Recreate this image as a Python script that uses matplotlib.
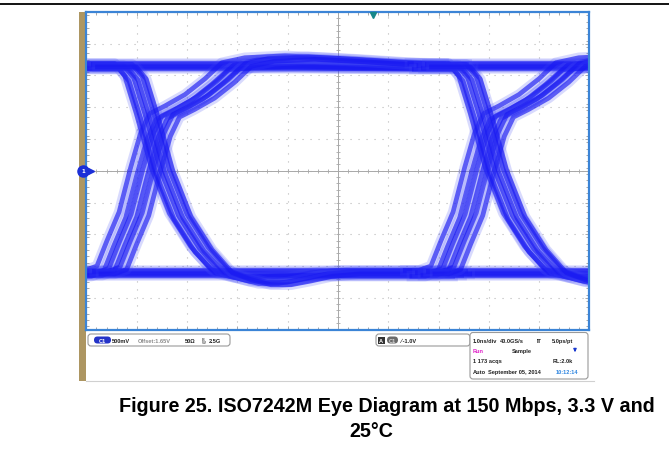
import numpy as np
import matplotlib
matplotlib.use('Agg')
import matplotlib.pyplot as plt
from matplotlib.patches import Rectangle, FancyBboxPatch
from matplotlib.ticker import MultipleLocator

# ---- waveform data (time in ns, level in V) ----
ui = 6.64                      # one bit at 150 Mbps, left crossing -> right crossing

rise_t = [0.00, 0.27, 0.51, 0.71, 0.95, 1.18, 1.38, 1.56, 1.86, 2.26, 2.66, 2.99,
          3.45, 4.25, 5.24, 6.63, 7.40]
rise_v = [0.03, 0.03, 0.10, 0.50, 0.95, 1.65, 2.20, 2.50, 2.62, 2.80, 3.05, 3.28,
          3.31, 3.32, 3.30, 3.29, 3.29]
rise_v_over = [0.03, 0.03, 0.10, 0.50, 0.95, 1.65, 2.20, 2.50, 2.62, 2.80, 3.05, 3.30,
               3.38, 3.41, 3.37, 3.30, 3.29]

fall_t = [0.00, 0.77, 0.97, 1.20, 1.50, 1.86, 2.28, 2.68, 3.05, 3.45, 3.85, 4.25,
          4.65, 5.20, 7.40]
fall_v = [3.29, 3.29, 3.10, 2.51, 1.65, 0.93, 0.41, 0.08, 0.01, 0.01, 0.02, 0.03,
          0.03, 0.03, 0.03]
fall_v_under = [3.29, 3.29, 3.10, 2.51, 1.65, 0.93, 0.41, 0.05, -0.06, -0.14, -0.14,
                -0.08, -0.01, 0.03, 0.03]

# edge-to-edge timing spread (ns) and level spread (V) of the separate paths
rise_skew = [-0.30, -0.17, -0.06, 0.05, 0.16, 0.29]
fall_skew = [-0.21, -0.12, -0.03, 0.06, 0.14, 0.22]
level_shift = [0.05, -0.04, 0.015, -0.025, 0.035, -0.005]
overshoot = [1, 0, 1, 0, 1, 1]

high_level = 3.29
low_level = 0.03

# scope settings
v_div = 0.5
offset = 1.65
t_div = 1.0
trig_t = 5.70

trace_core = '#1818f2'
trace_halo = '#4048f8'

fig = plt.figure(figsize=(6.69, 4.56), dpi=100)

# pixel overlay for the screenshot frame, status bar and caption
bg = fig.add_axes([0, 0, 1, 1])
bg.set_xlim(0, 669)
bg.set_ylim(456, 0)
bg.axis('off')

bg.plot([0, 669], [5, 5], color='black', lw=1.3)
bg.add_patch(Rectangle((79, 12.5), 7, 369.5, color='#ad9662', lw=0))
bg.plot([86, 594], [381.5, 381.5], color='#d0d0d0', lw=0.8)

small = dict(fontsize=4.1, fontweight='bold', family='Liberation Sans', va='center')

# channel box
bg.add_patch(FancyBboxPatch((88, 335), 142, 12, boxstyle='round,pad=0,rounding_size=3',
                            fc='white', ec='#9a9a9a', lw=0.8))
bg.add_patch(FancyBboxPatch((94, 337.5), 17, 7, boxstyle='round,pad=0,rounding_size=3.5',
                            fc='#2433c8', ec='none'))
bg.text(102.5, 341.2, 'C1', color='white', ha='center', **small)
bg.text(112, 341.2, '500mV', color='#222222', ha='left', **small)
bg.text(138, 341.2, 'Offset:1.65V', color='#8a8a8a', ha='left', **small)
bg.text(185, 341.2, '50Ω', color='#222222', ha='left', **small)
bg.text(201, 341.2, r'$^{\mathrm{B}}_{\mathrm{W}}$', color='#222222', ha='left', **small)
bg.text(209, 341.2, '2.5G', color='#222222', ha='left', **small)

# trigger box
bg.add_patch(FancyBboxPatch((376, 335), 94, 12, boxstyle='round,pad=0,rounding_size=3',
                            fc='white', ec='#9a9a9a', lw=0.8))
bg.add_patch(Rectangle((378, 337.5), 6.5, 7, fc='#333333', ec='none'))
bg.text(381.2, 341.2, 'A', color='white', ha='center', **small)
bg.add_patch(FancyBboxPatch((387, 337.5), 11, 7, boxstyle='round,pad=0,rounding_size=3.5',
                            fc='#6a6a6a', ec='none'))
bg.text(392.5, 341.2, 'C1', color='#d8d8d8', ha='center', **small)
bg.text(400, 341.2, '∕ -1.0V', color='#222222', ha='left', **small)

# acquisition box
bg.add_patch(FancyBboxPatch((470, 333.5), 118, 46.5, boxstyle='round,pad=0,rounding_size=3',
                            fc='white', ec='#9a9a9a', lw=0.8))
bg.text(473, 341.7, '1.0ns/div', color='#222222', ha='left', **small)
bg.text(500, 341.7, '40.0GS/s', color='#222222', ha='left', **small)
bg.text(537, 341.7, 'IT', color='#222222', ha='left', **small)
bg.text(552, 341.7, '5.0ps/pt', color='#222222', ha='left', **small)
bg.text(473, 351.7, 'Run', color='#e020c8', ha='left', **small)
bg.text(512, 351.7, 'Sample', color='#222222', ha='left', **small)
bg.annotate('', xy=(575, 356), xytext=(575, 347.5),
            arrowprops=dict(arrowstyle='-|>', color='#1a3ad0', lw=1.0, mutation_scale=4))
bg.text(473, 362, '1 173 acqs', color='#222222', ha='left', **small)
bg.text(553, 362, 'RL:2.0k', color='#222222', ha='left', **small)
bg.text(473, 372.7, 'Auto', color='#222222', ha='left', **small)
bg.text(488, 372.7, 'September 05, 2014', color='#222222', ha='left', **small)
bg.text(556, 372.7, '10:12:14', color='#2f86e0', ha='left', **small)

# caption
cap = dict(fontsize=14.2, fontweight='bold', family='Liberation Sans', ha='center',
           va='center', color='black')
bg.text(387, 407, 'Figure 25. ISO7242M Eye Diagram at 150 Mbps, 3.3 V and', **cap)
bg.text(371, 432, '25°C', **cap)

# ---- scope graticule ----
ax = fig.add_axes([86.4 / 669, 1 - 330.5 / 456, 503 / 669, 317.5 / 456])
ymin = offset - 5 * v_div
ymax = offset + 5 * v_div
ax.set_xlim(0, 10 * t_div)
ax.set_ylim(ymin, ymax)
ax.set_facecolor('white')

ax.set_xticks(np.arange(0, 10.01, t_div))
ax.set_yticks(np.arange(ymin, ymax + 0.01, v_div))
ax.xaxis.set_minor_locator(MultipleLocator(t_div / 5))
ax.yaxis.set_minor_locator(MultipleLocator(v_div / 5))
ax.tick_params(which='both', direction='in', top=True, right=True, colors='#9a9a9a',
               labelbottom=False, labelleft=False, width=0.6)
ax.tick_params(which='major', length=3)
ax.tick_params(which='minor', length=2.2)
ax.grid(True, which='major', color='#b8b8b8', lw=0.8, linestyle=(0, (1, 6.2)))
for sp in ax.spines.values():
    sp.set_color('#3b84d6')
    sp.set_linewidth(1.6)

# centre cross with fine ticks
ax.axhline(offset, color='#a8a8a8', lw=0.7)
ax.axvline(5 * t_div, color='#a8a8a8', lw=0.7)
ax.plot(np.arange(0, 10.01, t_div / 5), [offset] * 51, '|', color='#a8a8a8', ms=3, mew=0.6)
ax.plot([5 * t_div] * 51, np.arange(ymin, ymax + 0.01, v_div / 5), '_', color='#a8a8a8',
        ms=3, mew=0.6)

# steady high / low runs
for dv in level_shift:
    for lv in (high_level, low_level):
        ax.plot([0, 10], [lv + dv, lv + dv], color=trace_halo, lw=7, alpha=0.15,
                solid_capstyle='butt')
        ax.plot([0, 10], [lv + dv, lv + dv], color=trace_core, lw=3.2, alpha=0.6,
                solid_capstyle='butt')

# edges at the left and right crossings
for shift in (0.0, ui):
    for sk, dv, ov in zip(rise_skew, level_shift, overshoot):
        vv = np.array(rise_v_over if ov else rise_v) + dv
        tt = np.array(rise_t) + sk + shift
        ax.plot(tt, vv, color=trace_halo, lw=7.5, alpha=0.2)
        ax.plot(tt, vv, color=trace_core, lw=3.4, alpha=0.65)
    for sk, dv, ov in zip(fall_skew, level_shift, overshoot):
        vv = np.array(fall_v_under if ov else fall_v) + dv
        tt = np.array(fall_t) + sk + shift
        ax.plot(tt, vv, color=trace_halo, lw=7.5, alpha=0.2)
        ax.plot(tt, vv, color=trace_core, lw=3.4, alpha=0.65)

# trigger position and channel ground marker
ax.plot(trig_t, ymax - 0.04, marker='v', color='#16878a', ms=4.5, clip_on=False, zorder=5)
ax.plot(0.1, offset, marker='>', color='#1b2fd8', ms=4.5, clip_on=False, zorder=5)
ax.plot(-0.07, offset, marker='o', color='#1b2fd8', ms=8, clip_on=False, zorder=6)
ax.text(-0.07, offset, '1', color='white', fontsize=4, fontweight='bold', ha='center',
        va='center', clip_on=False, zorder=7)

fig.savefig('out.png', dpi=100)
